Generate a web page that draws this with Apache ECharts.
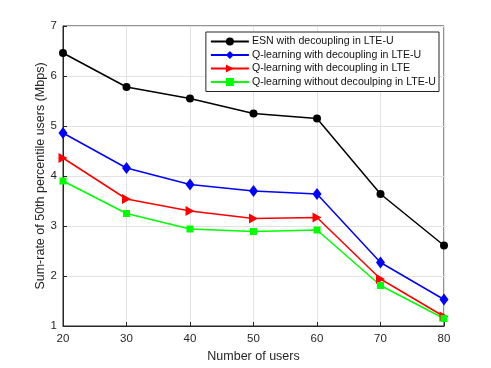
<!DOCTYPE html>
<html>
<head>
<meta charset="utf-8">
<script src="https://cdn.jsdelivr.net/npm/echarts@6/dist/echarts.min.js"></script>
<style>
  html, body { margin: 0; padding: 0; background: #fff; }
  #chart { width: 491px; height: 368px; }
</style>
</head>
<body>
<div id="chart"></div>
<script>
// number of users on the x axis
var users = [20, 30, 40, 50, 60, 70, 80];

// sum-rate values (Mbps)
var esnDecouplingLteU = [6.46, 5.78, 5.55, 5.25, 5.15, 3.64, 2.61];
var qDecouplingLteU = [4.86, 4.16, 3.83, 3.70, 3.64, 2.27, 1.53];
var qDecouplingLte = [4.36, 3.54, 3.30, 3.15, 3.17, 1.94, 1.19];
var qNoDecouplingLteU = [3.90, 3.25, 2.94, 2.89, 2.92, 1.81, 1.15];

var seriesNames = [
  "ESN with decoupling in LTE-U",
  "Q-learning with decoupling in LTE-U",
  "Q-learning with decoupling in LTE",
  "Q-learning without decoulping in LTE-U"
];

function pairs(vals) {
  return users.map(function (u, i) { return [u, vals[i]]; });
}

var font = "Liberation Sans, Arial, Helvetica, sans-serif";
var chart = echarts.init(document.getElementById("chart"));

chart.setOption({
  animation: false,
  backgroundColor: "#fff",
  grid: {
    left: 63,
    right: 47,
    top: 26,
    bottom: 41,
    show: true,
    borderColor: "#262626",
    borderWidth: 1
  },
  legend: {
    orient: "vertical",
    right: 52,
    top: 32,
    itemGap: 2.5,
    itemWidth: 38,
    itemHeight: 10,
    padding: [4, 3, 4, 4],
    backgroundColor: "#fff",
    borderColor: "#262626",
    borderWidth: 1,
    textStyle: { fontFamily: font, fontSize: 10.6, color: "#111", padding: [0, 0, 0, -2] },
    data: seriesNames
  },
  xAxis: {
    type: "value",
    min: 20,
    max: 80,
    interval: 10,
    name: "Number of users",
    nameLocation: "middle",
    nameGap: 24,
    nameTextStyle: { fontFamily: font, fontSize: 12.5, color: "#262626" },
    axisLine: { lineStyle: { color: "#262626" } },
    axisTick: { inside: true, length: 4, lineStyle: { color: "#262626" } },
    axisLabel: { fontFamily: font, fontSize: 11.5, color: "#262626", margin: 7 },
    splitLine: { lineStyle: { color: "#e3e3e3" } }
  },
  yAxis: {
    type: "value",
    min: 1,
    max: 7,
    interval: 1,
    name: "Sum-rate of 50th percentile users (Mbps)",
    nameLocation: "middle",
    nameGap: 16,
    nameMoveOverlap: false,
    nameTextStyle: { fontFamily: font, fontSize: 12.5, color: "#262626" },
    axisLine: { lineStyle: { color: "#262626" } },
    axisTick: { inside: true, length: 4, lineStyle: { color: "#262626" } },
    axisLabel: { fontFamily: font, fontSize: 11.5, color: "#262626", margin: 6 },
    splitLine: { lineStyle: { color: "#e3e3e3" } }
  },
  series: [
    {
      name: seriesNames[0],
      type: "line",
      data: pairs(esnDecouplingLteU),
      symbol: "circle",
      symbolSize: 8,
      itemStyle: { color: "#000" },
      lineStyle: { color: "#000", width: 1.5 }
    },
    {
      name: seriesNames[1],
      type: "line",
      data: pairs(qDecouplingLteU),
      symbol: "diamond",
      symbolSize: [9, 12],
      itemStyle: { color: "#0000ff" },
      lineStyle: { color: "#0000ff", width: 1.5 }
    },
    {
      name: seriesNames[2],
      type: "line",
      data: pairs(qDecouplingLte),
      symbol: "triangle",
      symbolRotate: -90,
      symbolSize: [10, 9],
      itemStyle: { color: "#ff0000" },
      lineStyle: { color: "#ff0000", width: 1.5 }
    },
    {
      name: seriesNames[3],
      type: "line",
      data: pairs(qNoDecouplingLteU),
      symbol: "rect",
      symbolSize: 7,
      itemStyle: { color: "#00ff00" },
      lineStyle: { color: "#00ff00", width: 1.5 }
    }
  ]
});
</script>
</body>
</html>
